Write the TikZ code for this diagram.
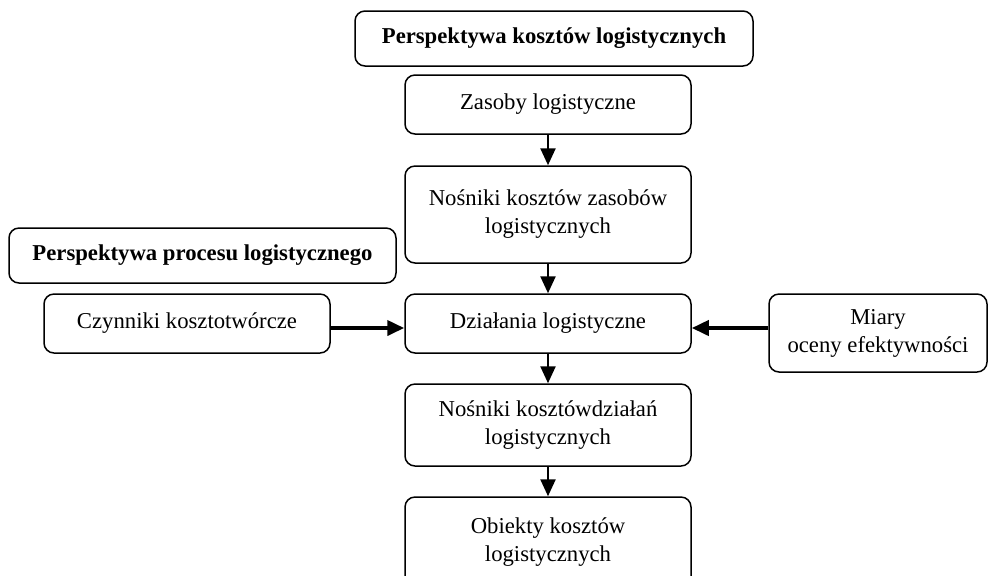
\documentclass[tikz,border=0pt]{standalone}
\usepackage{fontspec}
\setmainfont{Liberation Serif}
\usetikzlibrary{arrows.meta}

\tikzset{
  box/.style={draw, rounded corners=5pt, line width=0.75pt, align=center,
    inner sep=0pt, font=\fontsize{11.35}{14}\selectfont},
  flow/.style={->, line width=1.2pt},
  side/.style={->, line width=1.9pt}
}

\begin{document}
\begin{tikzpicture}[>={Triangle[length=8.5pt,width=7.5pt]}, x=0.5pt, y=-0.5pt]
  \useasboundingbox (0,0) rectangle (988,575);

  % Headers
  \node[box, minimum width=199pt, minimum height=27.5pt] (kosztyhead) at (554,38.5)
    {\textbf{Perspektywa kosztów logistycznych}};
  \node[box, minimum width=193.5pt, minimum height=27.5pt] (proceshead) at (202.5,255.5)
    {\textbf{Perspektywa procesu logistycznego}};

  % Main column
  \node[box, minimum width=143pt, minimum height=29.5pt] (zasoby) at (548,104.5)
    {Zasoby logistyczne};
  \node[box, minimum width=143pt, minimum height=48.5pt] (noszas) at (548,214.5)
    {Nośniki kosztów zasobów\\logistycznych};
  \node[box, minimum width=143pt, minimum height=29.5pt] (dzialania) at (548,323.5)
    {Działania logistyczne};
  \node[box, minimum width=143pt, minimum height=41pt] (nosdzi) at (548,425)
    {Nośniki kosztówdziałań\\logistycznych};
  \node[box, minimum width=143pt, minimum height=45pt] (obiekty) at (548,542)
    {Obiekty kosztów\\logistycznych};

  % Side boxes
  \node[box, minimum width=143pt, minimum height=29.5pt] (czynniki) at (187,323.5)
    {Czynniki kosztotwórcze};
  \node[box, minimum width=109pt, minimum height=39pt] (miary) at (878,333)
    {Miary\\oceny efektywności};

  % Arrows
  \draw[flow] (zasoby) -- (noszas);
  \draw[flow] (noszas) -- (dzialania);
  \draw[flow] (dzialania) -- (nosdzi);
  \draw[flow] (nosdzi) -- (obiekty);
  \draw[side] ([yshift=-2.25pt]czynniki.east) -- ([yshift=-2.25pt]dzialania.west);
  \draw[side] ([yshift=2.5pt]miary.west) -- ([yshift=-2.25pt]dzialania.east);
\end{tikzpicture}
\end{document}
